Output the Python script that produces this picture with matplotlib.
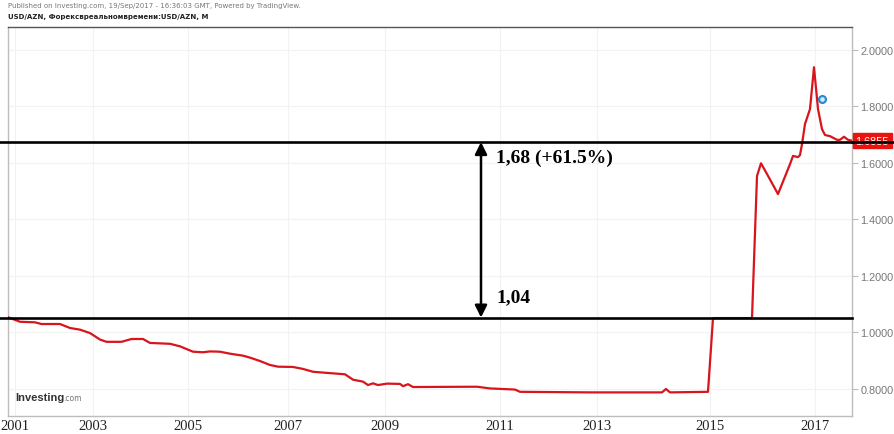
import matplotlib
matplotlib.use("Agg")
import matplotlib.pyplot as plt

# ---- data (decimal year, USD/AZN monthly close) ----
years = [2000.86, 2001.10, 2001.40, 2001.53, 2001.90, 2002.10, 2002.30, 2002.50, 2002.70, 2002.83,
         2003.13, 2003.33, 2003.56, 2003.70, 2004.10, 2004.30, 2004.56, 2004.76, 2004.90, 2005.10,
         2005.30, 2005.56, 2005.70, 2005.90, 2006.10, 2006.26, 2006.56, 2006.76, 2006.96, 2007.24,
         2007.60, 2007.76, 2007.96, 2008.06, 2008.16, 2008.26, 2008.44, 2008.70, 2008.76, 2008.86,
         2008.96, 2010.24, 2010.50, 2011.00, 2011.10, 2012.50, 2013.94, 2014.02, 2014.10, 2014.86,
         2014.96, 2015.74, 2015.84, 2015.92, 2016.04, 2016.26, 2016.50, 2016.56, 2016.66, 2016.70,
         2016.74, 2016.80, 2016.90, 2016.98, 2017.06, 2017.14, 2017.20, 2017.30, 2017.44, 2017.50,
         2017.58, 2017.66, 2017.74]
rates = [1.054, 1.038, 1.036, 1.030, 1.030, 1.016, 1.010, 0.998, 0.975, 0.967,
         0.967, 0.977, 0.977, 0.963, 0.960, 0.951, 0.932, 0.930, 0.933, 0.932,
         0.925, 0.918, 0.911, 0.899, 0.885, 0.879, 0.878, 0.871, 0.861, 0.857,
         0.852, 0.833, 0.826, 0.814, 0.820, 0.814, 0.819, 0.818, 0.810, 0.817,
         0.807, 0.808, 0.802, 0.798, 0.790, 0.788, 0.788, 0.800, 0.788, 0.790,
         1.051, 1.051, 1.554, 1.599, 1.561, 1.490, 1.596, 1.625, 1.621, 1.628,
         1.667, 1.738, 1.791, 1.939, 1.791, 1.720, 1.699, 1.695, 1.682, 1.682,
         1.693, 1.682, 1.679]

level_low = 1.053
level_high = 1.674
last_price = "1.6855"
label_high = "1,68 (+61.5%)"
label_low = "1,04"

x_labels = ["2001", "2003", "2005", "2007", "2009", "2011", "2013", "2015", "2017"]
x_label_pos = [2001.0, 2002.56, 2004.46, 2006.46, 2008.40, 2010.70, 2012.64, 2014.90, 2017.0]
y_ticks = [0.8, 1.0, 1.2, 1.4, 1.6, 1.8, 2.0]

# ---- figure ----
W, H = 895, 435
fig = plt.figure(figsize=(W / 100, H / 100), dpi=100)
ax = fig.add_axes([8 / W, 18 / H, 844 / W, 389 / H])
ax.set_xlim(2000.86, 2017.74)
ax.set_ylim(0.7044, 2.0814)

# faint grid
for xp in x_label_pos:
    ax.axvline(xp, color="#f2f2f2", lw=0.8, zorder=0)
for yt in y_ticks:
    ax.axhline(yt, color="#f2f2f2", lw=0.8, zorder=0)

ax.plot(years, rates, color="#d8141c", lw=1.6, zorder=3, solid_joinstyle="round")

# horizontal levels
for lv in (level_low, level_high):
    ax.axhline(lv, xmin=-0.01, xmax=1.0, color="black", lw=1.9, zorder=4, clip_on=False)

# double arrow
ax.annotate("", xy=(2010.32, level_high), xytext=(2010.32, level_low),
            arrowprops=dict(arrowstyle="<|-|>", color="black", lw=1.8,
                            mutation_scale=18, shrinkA=0, shrinkB=0), zorder=5)
ax.text(2010.62, 1.62, label_high, fontfamily="Liberation Serif", fontweight="bold",
        fontsize=14, va="center", ha="left", color="black")
ax.text(2010.62, 1.127, label_low, fontfamily="Liberation Serif", fontweight="bold",
        fontsize=14, va="center", ha="left", color="black")

# blue event marker
ax.scatter([2017.14], [1.825], s=30, color="#3a9ae0", edgecolor="#2b7fc8", zorder=6)
ax.scatter([2017.14], [1.825], s=5, color="#d6ecfb", zorder=7)

# axes styling
for s in ("left", "bottom", "right", "top"):
    ax.spines[s].set_color("#bdbdbd")
    ax.spines[s].set_linewidth(1.0)
ax.spines["top"].set_color("#555555")

ax.yaxis.tick_right()
ax.set_yticks(y_ticks)
ax.set_yticklabels([f"{v:.4f}" for v in y_ticks], color="#777777", fontsize=7.8,
                   fontfamily="Liberation Sans")
ax.tick_params(axis="y", length=4, color="#bdbdbd", pad=2)
ax.set_xticks(x_label_pos)
ax.set_xticklabels(x_labels, fontfamily="Liberation Serif", fontsize=10.5, color="#222222")
ax.tick_params(axis="x", length=0, pad=2)

# last price box
ax.text(1.004, level_high + 0.005, last_price, transform=ax.get_yaxis_transform(),
        ha="left", va="center", fontsize=7.8, color="white", zorder=3, clip_on=False,
        family="Liberation Sans",
        bbox=dict(boxstyle="square,pad=0.25", fc="#e8140f", ec="#e8140f"))
ax.axhline(level_high, xmin=1.0, xmax=1.06, color="black", lw=1.9, zorder=8, clip_on=False)

# header texts
fig.text(8 / W, 1 - 6 / H, "Published on Investing.com, 19/Sep/2017 - 16:36:03 GMT, Powered by TradingView.",
         fontsize=5, color="#777777", va="center", ha="left")
fig.text(8 / W, 1 - 17 / H, "USD/AZN, Форексвреальномвремени:USD/AZN, M",
         fontsize=5, color="#222222", fontweight="bold", va="center", ha="left")

# logo
ax.text(0.008, 0.035, "Investing", transform=ax.transAxes, fontsize=8, fontweight="bold",
        color="#333333", va="bottom", ha="left", family="Liberation Sans")
ax.text(0.065, 0.037, ".com", transform=ax.transAxes, fontsize=5.5,
        color="#777777", va="bottom", ha="left")

fig.savefig("out.png", dpi=100, facecolor="white")
